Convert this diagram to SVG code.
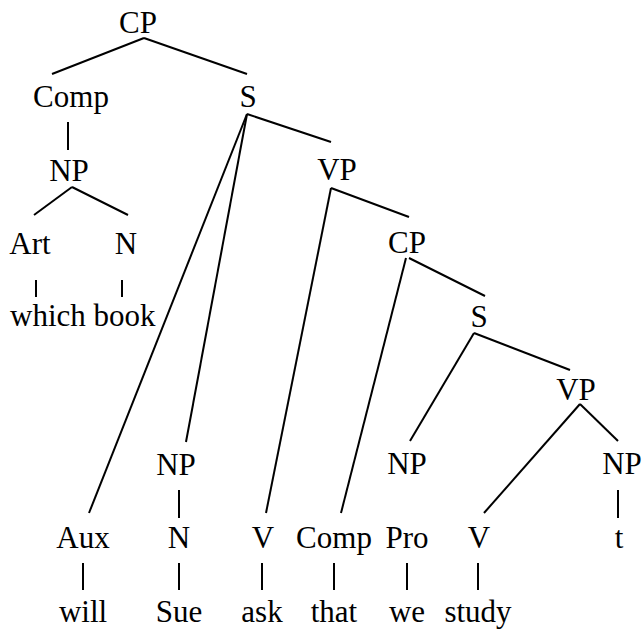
<svg xmlns="http://www.w3.org/2000/svg" width="642" height="630" viewBox="0 0 642 630">
<style>
text{font-family:'Liberation Serif','Times New Roman',Times,serif;font-size:31px;fill:#000;text-anchor:middle}
line{stroke:#000;stroke-width:2;stroke-linecap:butt}
</style>
<rect width="642" height="630" fill="#fff"/>
<g id="connectors">
<line x1="144" y1="38" x2="52" y2="74"/>
<line x1="144" y1="38" x2="247" y2="74"/>
<line x1="68" y1="122" x2="68" y2="150"/>
<line x1="72" y1="187" x2="34" y2="215"/>
<line x1="72" y1="187" x2="128" y2="215"/>
<line x1="36" y1="280" x2="36" y2="297"/>
<line x1="122" y1="280" x2="122" y2="297"/>
<line x1="247" y1="114" x2="331" y2="142"/>
<line x1="247" y1="114" x2="89" y2="513"/>
<line x1="247" y1="114" x2="186" y2="442"/>
<line x1="331" y1="188" x2="266" y2="513"/>
<line x1="331" y1="188" x2="409" y2="217"/>
<line x1="406" y1="258" x2="341" y2="513"/>
<line x1="409" y1="258" x2="485" y2="296"/>
<line x1="474" y1="333" x2="410" y2="441"/>
<line x1="474" y1="333" x2="570" y2="370"/>
<line x1="580" y1="404" x2="484" y2="513"/>
<line x1="580" y1="404" x2="618" y2="441"/>
<line x1="179" y1="490" x2="179" y2="518"/>
<line x1="618" y1="490" x2="618" y2="518"/>
<line x1="83" y1="563" x2="83" y2="590"/>
<line x1="179" y1="563" x2="179" y2="590"/>
<line x1="262" y1="563" x2="262" y2="590"/>
<line x1="334" y1="563" x2="334" y2="590"/>
<line x1="407" y1="563" x2="407" y2="590"/>
<line x1="478" y1="563" x2="478" y2="590"/>
</g>
<g font-family="Liberation Serif, serif">
<g id="n-cp1"><text x="138" y="33">CP</text></g>
<g id="n-comp1"><text x="71" y="107">Comp</text></g>
<g id="n-s1"><text x="248" y="107">S</text></g>
<g id="n-np1"><text x="69" y="181">NP</text></g>
<g id="n-art"><text x="30" y="254">Art</text></g>
<g id="n-n1"><text x="126" y="254">N</text></g>
<g id="n-whichbook"><text x="10" y="326" style="text-anchor:start">which book</text></g>
<g id="n-vp1"><text x="337" y="180">VP</text></g>
<g id="n-cp2"><text x="407" y="253">CP</text></g>
<g id="n-s2"><text x="479" y="327">S</text></g>
<g id="n-vp2"><text x="576" y="400">VP</text></g>
<g id="n-np-sue"><text x="176" y="475">NP</text></g>
<g id="n-np-we"><text x="407" y="474">NP</text></g>
<g id="n-np-t"><text x="622" y="474">NP</text></g>
<g id="n-aux"><text x="83" y="548">Aux</text></g>
<g id="n-n2"><text x="179" y="548">N</text></g>
<g id="n-v1"><text x="263" y="548">V</text></g>
<g id="n-comp2"><text x="334" y="548">Comp</text></g>
<g id="n-pro"><text x="407" y="548">Pro</text></g>
<g id="n-v2"><text x="479" y="548">V</text></g>
<g id="n-t"><text x="619" y="548">t</text></g>
<g id="n-will"><text x="83" y="622">will</text></g>
<g id="n-sue"><text x="179" y="622">Sue</text></g>
<g id="n-ask"><text x="262" y="622">ask</text></g>
<g id="n-that"><text x="334" y="622">that</text></g>
<g id="n-we"><text x="407" y="622">we</text></g>
<g id="n-study"><text x="478" y="622">study</text></g>
</g>
</svg>
